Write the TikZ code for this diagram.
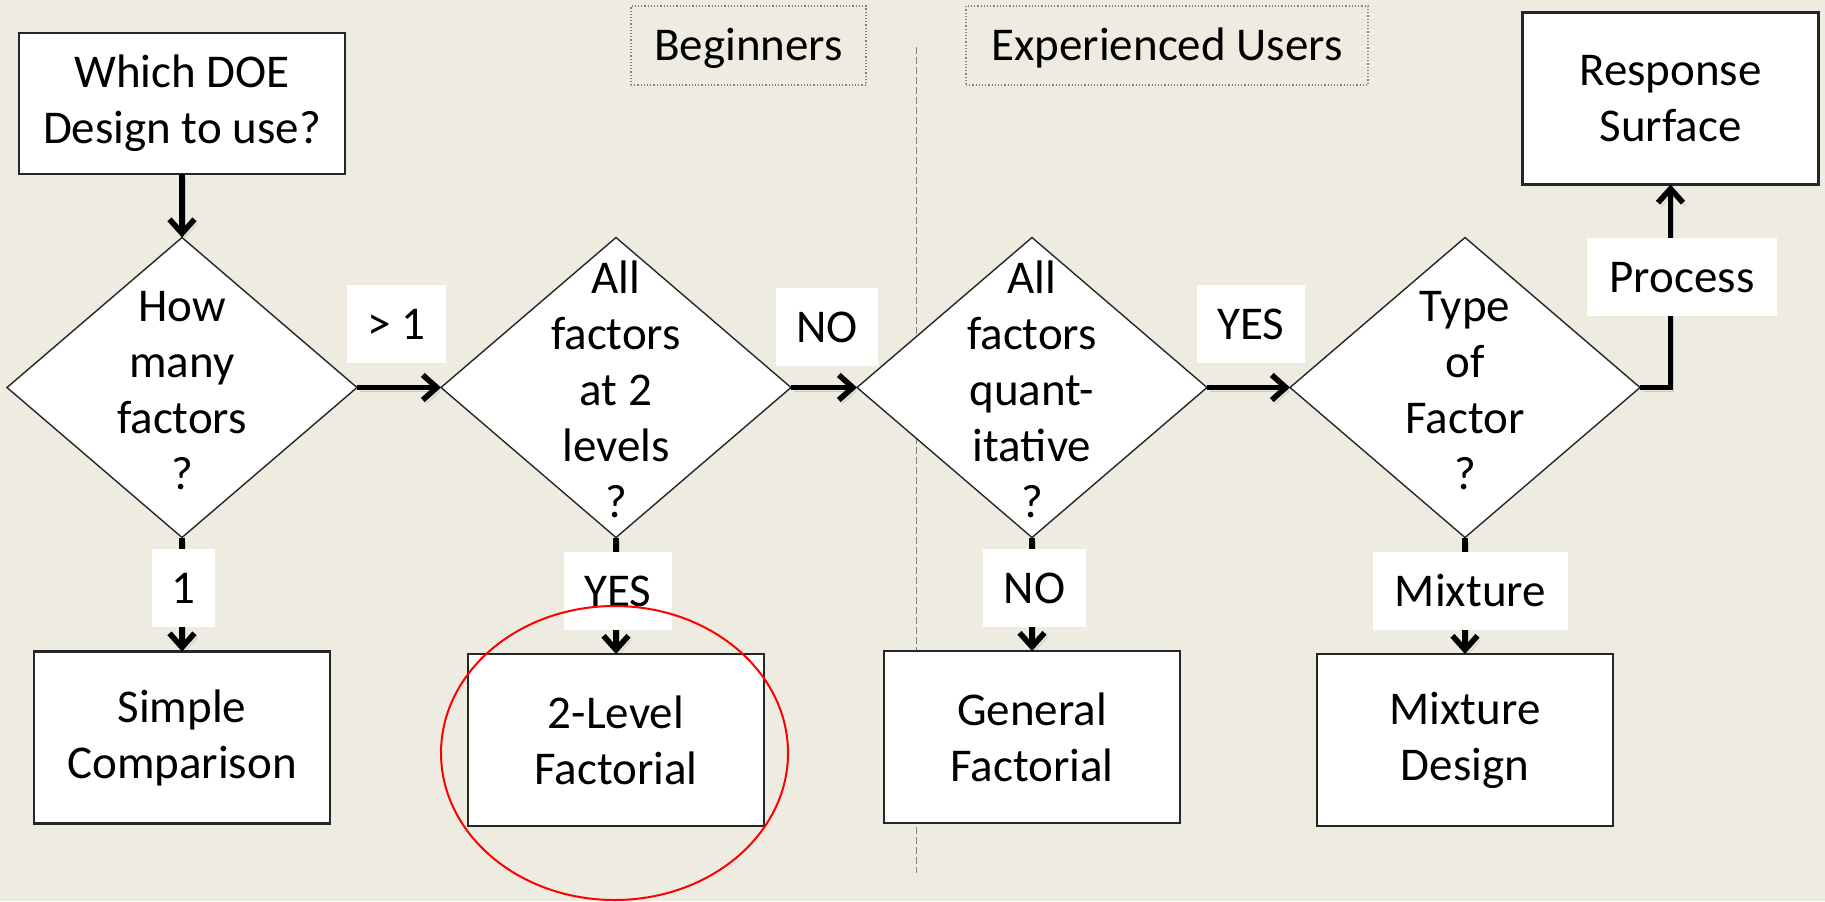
\documentclass[tikz,border=0pt]{standalone}
\usepackage{fontspec}
\setmainfont{Carlito}
\usetikzlibrary{shapes.geometric,arrows.meta}
\definecolor{bgpaper}{HTML}{EEECE1}
\definecolor{framegray}{HTML}{262626}
% multi-line text inside a decision diamond, kept from resizing the shape
\newcommand\qtext[1]{\smash{\raisebox{-9.5pt}{\makebox[0pt]{\begin{tabular}{@{}c@{}}#1\end{tabular}}}}}
\begin{document}
\begin{tikzpicture}[x=0.5pt,y=-0.5pt,
  every node/.style={font=\fontsize{23.5pt}{28pt}\selectfont, inner sep=0pt, outer sep=0pt},
  endbox/.style={draw=framegray, line width=1.2pt, fill=white, minimum width=148pt, minimum height=86pt, align=center},
  decision/.style={diamond, draw=black!85, line width=0.7pt, fill=white, minimum width=175pt, minimum height=150pt},
  tag/.style={fill=white, minimum height=39pt, text height=15pt, text depth=0pt},
  group/.style={draw=gray, densely dotted, line width=0.6pt, minimum height=39.5pt, text height=15pt, text depth=0pt},
  flow/.style={line width=2.8pt, -{Straight Barb[length=7pt,width=12.5pt]},
    preaction={draw=black, opacity=0.15, transform canvas={shift={(1.5pt,-2pt)}}}},
]
% page
\fill[bgpaper] (0,0) rectangle (1825,901);
\useasboundingbox (0,0) rectangle (1825,901);

% divider between the two audiences
\draw[gray, dash pattern=on 3.5pt off 1.5pt, line width=0.5pt] (916,47) -- (916,873);

% audience headings
\node[group, minimum width=117.5pt] (beg) at (748.5,45.5) {Beginners};
\node[group, minimum width=201pt] (exp) at (1167,45.5) {Experienced Users};

% start and outcome boxes
\node[endbox, minimum width=163pt, minimum height=70.5pt] (start) at (182,103.5) {Which DOE\\Design to use?};
\node[endbox] (resp) at (1670.5,98.5) {Response\\Surface};
\node[endbox] (simp) at (182,737.5) {Simple\\Comparison};
\node[endbox] (twol) at (616,740) {2-Level\\Factorial};
\node[endbox] (genf) at (1032,737) {General\\Factorial};
\node[endbox] (mixd) at (1465,740) {Mixture\\Design};

% decisions
\node[decision] (q1) at (182,387.5) {\qtext{How\\many\\factors\\?}};
\node[decision] (q2) at (616,387.5) {\qtext{All\\factors\\at 2\\levels\\?}};
\node[decision] (q3) at (1032,387.5) {\qtext{All\\factors\\quant-\\itative\\?}};
\node[decision] (q4) at (1465,387.5) {\qtext{Type\\of\\Factor\\?}};

% connectors
\draw[flow] (start.south) -- (q1.north);
\draw[flow] (q1.east) -- (q2.west);
\draw[flow] (q2.east) -- (q3.west);
\draw[flow] (q3.east) -- (q4.west);
\draw[flow] (q4.east) -| (resp.south);
\draw[flow] (q1.south) -- (simp.north);
\draw[flow] (q2.south) -- (twol.north);
\draw[flow] (q3.south) -- (genf.north);
\draw[flow] (q4.south) -- (mixd.north);

% connector labels
\node[tag, minimum width=49.5pt] (tgt) at (396.5,324) {> 1};
\node[tag, minimum width=51pt] (tno) at (827,327) {NO};
\node[tag, minimum width=54pt] (tyes) at (1251,324) {YES};
\node[tag, minimum width=95pt] (tproc) at (1682,277) {Process};
\node[tag, minimum width=31.5pt] (tone) at (183.5,588) {1};
\node[tag, minimum width=54pt] (tyes2) at (618,591) {YES};
\node[tag, minimum width=51.5pt] (tno2) at (1034.5,588) {NO};
\node[tag, minimum width=97.5pt] (tmix) at (1470.5,591) {Mixture};

% highlight
\node[ellipse, draw=red, line width=1pt, minimum width=173.5pt, minimum height=147pt] (hl) at (614.5,753) {};
\end{tikzpicture}
\end{document}
